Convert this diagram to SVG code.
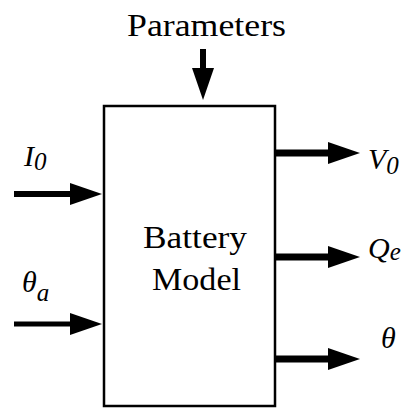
<svg xmlns="http://www.w3.org/2000/svg" width="408" height="410" viewBox="0 0 408 410">
<style>
  .box { fill: #fff; stroke: #000; stroke-width: 2.5; }
  .shaft { stroke: #000; fill: none; }
  .txt { font-family: 'Liberation Serif', 'DejaVu Serif', serif; fill: #000; }
  .lbl { font-family: 'Liberation Serif', 'DejaVu Serif', serif; font-style: italic; font-size: 30px; fill: #000; }
  .sub { font-size: 25px; }
</style>
<defs>
  <marker id="head" markerUnits="userSpaceOnUse" markerWidth="32" markerHeight="22" refX="0" refY="11" orient="auto" overflow="visible">
    <path d="M0,0 L32,11 L0,22 Z" fill="#000"/>
  </marker>
</defs>
<rect width="408" height="410" fill="#fff"/>

<g id="connectors">
  <line class="shaft" x1="203" y1="49" x2="203" y2="68" stroke-width="6" marker-end="url(#head)"/>
  <line class="shaft" x1="14" y1="194" x2="70" y2="194" stroke-width="6" marker-end="url(#head)"/>
  <line class="shaft" x1="14" y1="324" x2="70" y2="324" stroke-width="5" marker-end="url(#head)"/>
  <line class="shaft" x1="275" y1="153" x2="328" y2="153" stroke-width="7" marker-end="url(#head)"/>
  <line class="shaft" x1="275" y1="257" x2="328" y2="257" stroke-width="7" marker-end="url(#head)"/>
  <line class="shaft" x1="275" y1="359" x2="328" y2="359" stroke-width="7" marker-end="url(#head)"/>
</g>

<g id="battery-model">
  <rect class="box" x="104" y="106" width="171" height="300"/>
  <text class="txt" x="143" y="248" font-size="31" textLength="104" lengthAdjust="spacingAndGlyphs">Battery</text>
  <text class="txt" x="152" y="290" font-size="31" textLength="89" lengthAdjust="spacingAndGlyphs">Model</text>
</g>

<g id="parameters">
  <text class="txt" x="127" y="36" font-size="32" textLength="159" lengthAdjust="spacingAndGlyphs">Parameters</text>
</g>

<g id="input-I0">
  <text class="lbl" x="24" y="166">I<tspan class="sub" dy="4">0</tspan></text>
</g>

<g id="input-theta-a">
  <text class="lbl" x="22" y="292">θ<tspan class="sub" dy="9">a</tspan></text>
</g>

<g id="output-V0">
  <text class="lbl" x="368" y="169">V<tspan class="sub" dy="5">0</tspan></text>
</g>

<g id="output-Qe">
  <text class="lbl" x="368" y="258">Q<tspan class="sub" dy="2">e</tspan></text>
</g>

<g id="output-theta">
  <text class="lbl" x="381" y="348">θ</text>
</g>
</svg>
